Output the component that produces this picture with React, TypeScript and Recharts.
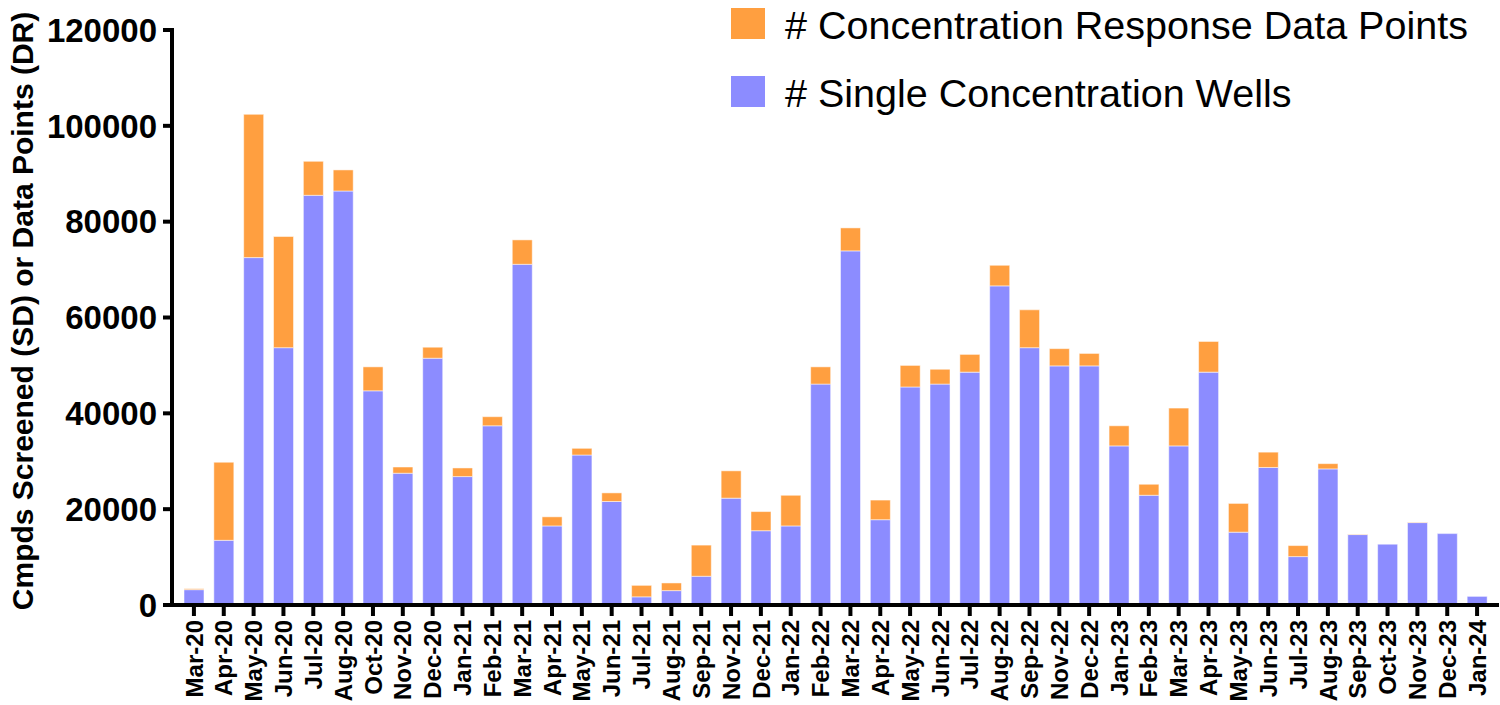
import { BarChart, Bar, XAxis, YAxis, Label } from 'recharts'

const months = [
  'Mar-20', 'Apr-20', 'May-20', 'Jun-20', 'Jul-20', 'Aug-20', 'Oct-20', 'Nov-20', 'Dec-20',
  'Jan-21', 'Feb-21', 'Mar-21', 'Apr-21', 'May-21', 'Jun-21', 'Jul-21', 'Aug-21', 'Sep-21', 'Nov-21', 'Dec-21',
  'Jan-22', 'Feb-22', 'Mar-22', 'Apr-22', 'May-22', 'Jun-22', 'Jul-22', 'Aug-22', 'Sep-22', 'Nov-22', 'Dec-22',
  'Jan-23', 'Feb-23', 'Mar-23', 'Apr-23', 'May-23', 'Jun-23', 'Jul-23', 'Aug-23', 'Sep-23', 'Oct-23', 'Nov-23', 'Dec-23',
  'Jan-24',
]

// single concentration wells (purple, bottom of stack)
const singleWells = [
  3200, 13500, 72500, 53700, 85500, 86400, 44700, 27500, 51500,
  26800, 37400, 71100, 16500, 31300, 21600, 1700, 3000, 6000, 22300, 15500,
  16500, 46100, 73900, 17800, 45500, 46100, 48600, 66600, 53700, 49900, 49900,
  33200, 22900, 33200, 48600, 15200, 28700, 10100, 28400, 14700, 12700, 17200, 14900,
  1800,
]

// concentration response data points (orange, top of stack)
const crPoints = [
  200, 16300, 29900, 23200, 7100, 4400, 5000, 1300, 2300,
  1800, 1900, 5100, 1900, 1400, 1800, 2400, 1600, 6500, 5700, 4000,
  6400, 3600, 4800, 4100, 4500, 3100, 3700, 4300, 7900, 3600, 2600,
  4200, 2300, 7900, 6400, 6000, 3200, 2300, 1100, 100, 0, 100, 0,
  0,
]

const yTicks = [0, 20000, 40000, 60000, 80000, 100000, 120000]

const ORANGE = '#FF9F40'
const PURPLE = '#8C8CFF'
const FONT = "'Liberation Sans', Arial, Helvetica, sans-serif"

const rows = months.map((m, i) => ({ month: m, sd: singleWells[i], dr: crPoints[i] }))

const legendItems = [
  { label: '# Concentration Response Data Points', color: ORANGE },
  { label: '# Single Concentration Wells', color: PURPLE },
]

function MonthTick(props: any) {
  const { x, y, payload } = props
  return (
    <text
      x={x}
      y={y}
      transform={`rotate(-90, ${x}, ${y})`}
      textAnchor="end"
      dy="0.36em"
      fontSize={24}
      fontWeight="bold"
      fontFamily={FONT}
      fill="#000"
    >
      {payload.value}
    </text>
  )
}

function ChartLegend() {
  return (
    <div style={{ position: 'absolute', left: 731, top: 8, fontFamily: FONT }}>
      {legendItems.map((it) => (
        <div key={it.label} style={{ display: 'flex', alignItems: 'center', height: 31, marginBottom: 37 }}>
          <div style={{ width: 34, height: 31, background: it.color, marginRight: 20 }} />
          <span style={{ fontSize: 39.5, lineHeight: '31px', color: '#000', position: 'relative', top: 2, whiteSpace: 'nowrap' }}>
            {it.label}
          </span>
        </div>
      ))}
    </div>
  )
}

function renderYLabel() {
  return (
    <text
      x={22}
      y={311}
      transform="rotate(-90, 22, 311)"
      textAnchor="middle"
      dy="0.36em"
      fontSize={30}
      fontWeight="bold"
      fontFamily={FONT}
      fill="#000"
    >
      Cmpds Screened (SD) or Data Points (DR)
    </text>
  )
}

export default function App() {
  return (
    <div style={{ position: 'absolute', left: 0, top: 0, width: 1500, height: 705, background: '#fff' }}>
      <BarChart
        width={1500}
        height={705}
        data={rows}
        margin={{ top: 30, right: 3, left: 0, bottom: 0 }}
      >
        <XAxis
          dataKey="month"
          interval={0}
          height={100}
          padding={{ left: 7, right: 5 }}
          axisLine={{ stroke: '#000', strokeWidth: 4, strokeLinecap: 'square' }}
          tickLine={{ stroke: '#000', strokeWidth: 4 }}
          tickSize={11}
          tickMargin={4}
          tick={<MonthTick />}
        />
        <YAxis
          width={172}
          domain={[0, 120000]}
          ticks={yTicks}
          interval={0}
          axisLine={{ stroke: '#000', strokeWidth: 4, strokeLinecap: 'square' }}
          tickLine={{ stroke: '#000', strokeWidth: 4 }}
          tickSize={9}
          tickMargin={6}
          tick={{ fontSize: 33, fontWeight: 'bold', fontFamily: FONT, fill: '#000' }}
        >
          <Label content={renderYLabel} />
        </YAxis>
        <Bar dataKey="sd" stackId="a" fill={PURPLE} barSize={20} stroke="#ffffff" strokeOpacity={0.5} strokeWidth={1} isAnimationActive={false} />
        <Bar dataKey="dr" stackId="a" fill={ORANGE} barSize={20} stroke="#ffffff" strokeOpacity={0.5} strokeWidth={1} isAnimationActive={false} />
      </BarChart>
      <ChartLegend />
    </div>
  )
}
